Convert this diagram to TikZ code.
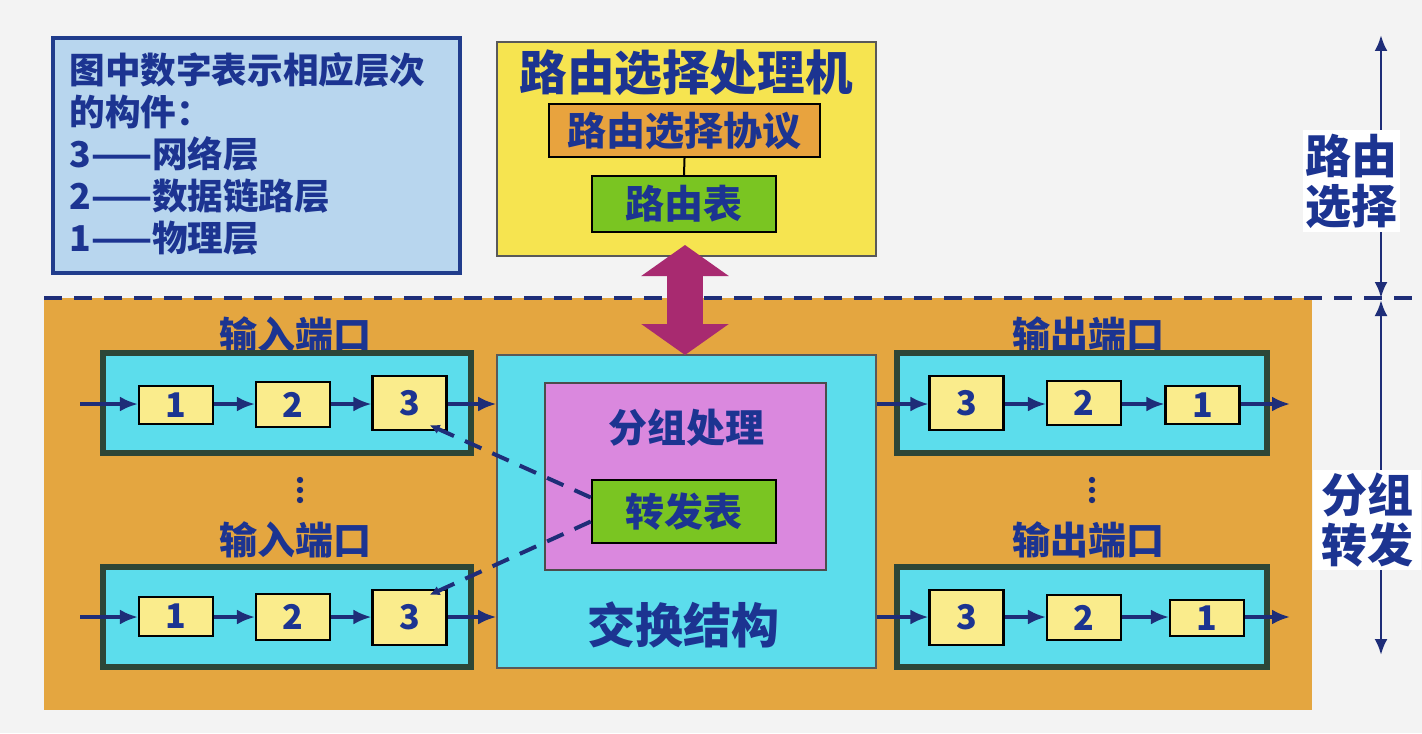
\documentclass[tikz,border=0pt]{standalone}
\usepackage{fontspec}
\setmainfont{Noto Sans CJK SC}
\usetikzlibrary{arrows.meta}
\definecolor{navy}{RGB}{28,52,145}
\definecolor{lineblue}{RGB}{30,45,120}
\definecolor{legendfill}{RGB}{184,214,238}
\definecolor{legendborder}{RGB}{32,60,140}
\definecolor{yel}{RGB}{246,228,80}
\definecolor{orangebox}{RGB}{232,163,62}
\definecolor{greenbox}{RGB}{122,197,34}
\definecolor{orangebg}{RGB}{228,166,64}
\definecolor{cyanbox}{RGB}{92,221,236}
\definecolor{purplebox}{RGB}{218,136,222}
\definecolor{paleyel}{RGB}{250,236,140}
\definecolor{portborder}{RGB}{45,70,55}
\definecolor{bigarrow}{RGB}{168,42,112}
\definecolor{pagebg}{RGB}{243,243,243}
\tikzset{
  txt/.style={text=navy, font=\bfseries},
  legendbox/.style={draw=legendborder, line width=1.6pt, fill=legendfill, inner sep=0pt},
  innerbox/.style={draw=black, line width=1.2pt, inner sep=0pt, txt},
  portbox/.style={draw=portborder, line width=2.6pt, fill=cyanbox, minimum width=184pt, minimum height=50pt, inner sep=0pt},
  numbox/.style={draw=black, line width=1.1pt, fill=paleyel, minimum width=37pt, inner sep=0pt, txt, font=\bfseries\fontsize{17}{17}\selectfont},
  flow/.style={draw=lineblue, line width=1.6pt, -{Latex[length=9pt,width=7.5pt]}},
  side/.style={draw=lineblue, line width=1.4pt, {Latex[length=8pt,width=6.5pt]}-{Latex[length=8pt,width=6.5pt]}},
  dashlink/.style={draw=lineblue, line width=2pt, dash pattern=on 9pt off 6pt, -{Latex[length=5pt,width=5pt]}},
  portlabel/.style={txt, font=\bfseries\fontsize{19}{19}\selectfont},
}
\begin{document}
\begin{tikzpicture}[x=0.5pt, y=-0.5pt]
\useasboundingbox (0,0) rectangle (1422,733);
\fill[pagebg] (0,0) rectangle (1422,733);
% orange region
\fill[orangebg] (44,298) rectangle (1312,710);
% dashed separator
\draw[lineblue, line width=2pt, dash pattern=on 9pt off 6pt] (44,298) -- (1422,298);

% legend
\node[legendbox, minimum width=203.5pt, minimum height=117.5pt] (legend) at (256.5,155.5) {};
\node[txt, anchor=north west, align=left, font=\bfseries\fontsize{17.8}{21}\selectfont, inner sep=0pt] (legendtext) at (69,52)
  {图中数字表示相应层次\\的构件：\\3——网络层\\2——数据链路层\\1——物理层};

% routing processor
\node[draw=gray!70!black, line width=0.8pt, fill=yel, minimum width=189.5pt, minimum height=107pt, inner sep=0pt] (rp) at (686.5,149) {};
\node[txt, font=\bfseries\fontsize{23.8}{24}\selectfont] (rptitle) at (686,73) {路由选择处理机};
\node[innerbox, fill=orangebox, minimum width=135.5pt, minimum height=26.5pt, font=\bfseries\fontsize{19.5}{20}\selectfont] (proto) at (684.5,130.5) {路由选择协议};
\node[innerbox, fill=greenbox, minimum width=92pt, minimum height=28pt, font=\bfseries\fontsize{19.5}{20}\selectfont] (rtable) at (684,204) {路由表};
\draw[black, line width=1pt] (proto.south) -- (rtable.north);

% switch fabric
\node[draw=gray!70!black, line width=0.8pt, fill=cyanbox, minimum width=189.5pt, minimum height=156.5pt, inner sep=0pt] (sw) at (686.5,511.5) {};
\node[draw=gray!60!black, line width=0.8pt, fill=purplebox, minimum width=140.5pt, minimum height=93.5pt, inner sep=0pt] (proc) at (685.5,476.5) {};
\node[txt, font=\bfseries\fontsize{19.5}{20}\selectfont] (proctitle) at (686,428) {分组处理};
\node[innerbox, fill=greenbox, minimum width=92pt, minimum height=31.5pt, font=\bfseries\fontsize{19.5}{20}\selectfont] (ftable) at (684,511.5) {转发表};
\node[txt, font=\bfseries\fontsize{24}{24}\selectfont] (swtitle) at (683,625) {交换结构};

% big purple double arrow
\draw[bigarrow, line width=18pt, {Triangle[width=43pt,length=15.5pt]}-{Triangle[width=43pt,length=15.5pt]}] (685,245) -- (685,355);

% input ports
\node[portlabel] (inlab1) at (295,335) {输入端口};
\node[portbox] (inport1) at (287,403) {};
\node[numbox, minimum height=19pt] (i11) at (176,405) {1};
\node[numbox, minimum height=22.5pt] (i12) at (293,404.5) {2};
\node[numbox, minimum height=27pt] (i13) at (409.5,403) {3};

\node[portlabel] (inlab2) at (295,540) {输入端口};
\node[portbox] (inport2) at (287,617) {};
\node[numbox, minimum height=19.5pt] (i21) at (176,616.5) {1};
\node[numbox, minimum height=23pt] (i22) at (293,617) {2};
\node[numbox, minimum height=27.5pt] (i23) at (409.5,617.5) {3};

% output ports
\node[portlabel] (outlab1) at (1088,335) {输出端口};
\node[portbox, minimum width=185pt] (outport1) at (1082,403) {};
\node[numbox, minimum height=27pt] (o13) at (966.5,403) {3};
\node[numbox, minimum height=22pt] (o12) at (1084,403) {2};
\node[numbox, minimum height=19pt] (o11) at (1202.5,405) {1};

\node[portlabel] (outlab2) at (1088,540) {输出端口};
\node[portbox, minimum width=185pt] (outport2) at (1082,617) {};
\node[numbox, minimum height=27.5pt] (o23) at (966.5,617.5) {3};
\node[numbox, minimum height=22.5pt] (o22) at (1084,617.5) {2};
\node[numbox, minimum height=18pt] (o21) at (1207,618) {1};

% vertical dots
\foreach \x in {300,1092}{
  \foreach \y in {480,490,500}{
    \fill[lineblue] (\x,\y) circle (1.6pt);
  }
}

% flow coordinates
\coordinate (in1start) at (80,404);
\coordinate (in2start) at (80,617);
\coordinate (out1end) at (1290,404);
\coordinate (out2end) at (1290,617);

% input arrows
\draw[flow] (in1start) -- (in1start -| i11.west);
\draw[flow] (i11.east |- in1start) -- (i12.west |- in1start);
\draw[flow] (i12.east |- in1start) -- (i13.west |- in1start);
\draw[flow] (i13.east |- in1start) -- (sw.west |- in1start);
\draw[flow] (in2start) -- (in2start -| i21.west);
\draw[flow] (i21.east |- in2start) -- (i22.west |- in2start);
\draw[flow] (i22.east |- in2start) -- (i23.west |- in2start);
\draw[flow] (i23.east |- in2start) -- (sw.west |- in2start);

% output arrows
\draw[flow] (sw.east |- out1end) -- (o13.west |- out1end);
\draw[flow] (o13.east |- out1end) -- (o12.west |- out1end);
\draw[flow] (o12.east |- out1end) -- (o11.west |- out1end);
\draw[flow] (o11.east |- out1end) -- (out1end);
\draw[flow] (sw.east |- out2end) -- (o23.west |- out2end);
\draw[flow] (o23.east |- out2end) -- (o22.west |- out2end);
\draw[flow] (o22.east |- out2end) -- (o21.west |- out2end);
\draw[flow] (o21.east |- out2end) -- (out2end);

% dashed links from forwarding table to the network-layer boxes
\draw[dashlink] ([yshift=7pt]ftable.west) -- ([xshift=-9pt,yshift=3pt]i13.south east);
\draw[dashlink] ([yshift=-5pt]ftable.west) -- ([xshift=-9pt,yshift=-3pt]i23.north east);

% right-hand scale
\coordinate (topend) at (1381,35);
\coordinate (mid) at (1381,298);
\coordinate (botend) at (1381,655);
\draw[side] (topend) -- (mid);
\draw[side] ([yshift=-1pt]mid) -- (botend);
\node[fill=white, txt, align=center, inner sep=0pt, minimum width=48.5pt, minimum height=51pt, font=\bfseries\fontsize{23}{25}\selectfont] (lab1) at (1351.5,181) {路由\\选择};
\node[fill=white, txt, align=center, inner sep=0pt, minimum width=54pt, minimum height=50pt, font=\bfseries\fontsize{23}{25}\selectfont] (lab2) at (1367,520) {分组\\转发};
\end{tikzpicture}
\end{document}
